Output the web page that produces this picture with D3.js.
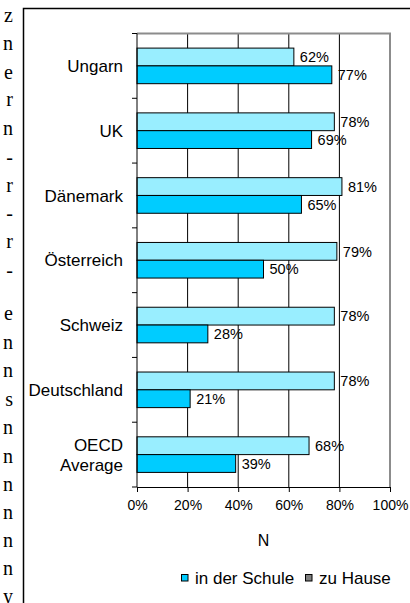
<!DOCTYPE html>
<html>
<head>
<meta charset="utf-8"/>
<title>Chart</title>
<script src="https://d3js.org/d3.v7.min.js"></script>
<style>
  body { margin: 0; background: #fff; }
  svg { display: block; }
  text { font-family: "Liberation Sans", Arial, sans-serif; fill: #000; }
  .serif { font-family: "Liberation Serif", "Times New Roman", serif; }
</style>
</head>
<body>
<svg width="410" height="603"></svg>
<script>
// chart data
var categories = ["Ungarn", "UK", "Dänemark", "Österreich", "Schweiz", "Deutschland", "OECD Average"];
var zuHause = [62, 78, 81, 79, 78, 78, 68];
var inDerSchule = [77, 69, 65, 50, 28, 21, 39];
var xTicks = [0, 20, 40, 60, 80, 100];
var legendLabels = ["in der Schule", "zu Hause"];
var axisTitle = "N";
// cut-off letters of the page text left of the chart
var sideLetters = ["z","n","e","r","n","-","r","-","r","-","e","n","n","s","n","n","n","n","n","n","y"];
var sideY = [15, 43, 72, 99, 128, 157, 185, 213, 241, 270, 313, 342, 370, 399, 427, 456, 484, 512, 540, 568, 596];

var svg = d3.select("svg");

// page text fragment
svg.append("g").selectAll("text")
  .data(sideLetters)
  .enter().append("text")
  .attr("class", "serif")
  .attr("x", 13)
  .attr("y", function(d, i) { return sideY[i]; })
  .attr("dy", "0.35em")
  .attr("text-anchor", "end")
  .style("font-size", "20px")
  .text(function(d) { return d; });

// chart frame
svg.append("path")
  .attr("d", "M23.5,610V8.5H415")
  .attr("fill", "none")
  .attr("stroke", "#000")
  .attr("stroke-width", 1.5);

var plotL = 137, plotR = 390, plotT = 33.5, plotB = 487;

var x = d3.scaleLinear().domain([0, 100]).range([plotL, plotR]);
var y0 = d3.scaleBand().domain(categories).range([plotT, plotB]);
var y1 = d3.scaleBand().domain(["zuHause", "schule"]).range([0, y0.bandwidth()]).paddingOuter(0.82);

var g = svg.append("g");

// gridlines
g.selectAll(".grid")
  .data(xTicks.filter(function(t) { return t > 0 && t < 100; }))
  .enter().append("line")
  .attr("x1", function(d) { return x(d); })
  .attr("x2", function(d) { return x(d); })
  .attr("y1", plotT).attr("y2", plotB)
  .attr("stroke", "#000").attr("stroke-width", 1);

// plot area border (top, right)
g.append("path")
  .attr("d", "M" + plotL + "," + plotT + "H" + plotR + "V" + plotB)
  .attr("fill", "none")
  .attr("stroke", "#8c8c8c")
  .attr("stroke-width", 2);

// bars
var rows = categories.map(function(c, i) {
  return { cat: c, vals: [{ key: "zuHause", v: zuHause[i] }, { key: "schule", v: inDerSchule[i] }] };
});
var colors = { zuHause: "#99EEFF", schule: "#00CCFF" };

var grp = g.selectAll(".cat")
  .data(rows)
  .enter().append("g")
  .attr("transform", function(d) { return "translate(0," + y0(d.cat) + ")"; });

grp.selectAll("rect")
  .data(function(d) { return d.vals; })
  .enter().append("rect")
  .attr("x", x(0))
  .attr("y", function(d) { return y1(d.key); })
  .attr("width", function(d) { return x(d.v) - x(0); })
  .attr("height", y1.bandwidth())
  .attr("fill", function(d) { return colors[d.key]; })
  .attr("stroke", "#000")
  .attr("stroke-width", 1);

grp.selectAll(".val")
  .data(function(d) { return d.vals; })
  .enter().append("text")
  .attr("x", function(d) { return x(d.v) + 6; })
  .attr("y", function(d) { return y1(d.key) + y1.bandwidth() / 2; })
  .attr("dy", "0.36em")
  .style("font-size", "14.5px")
  .text(function(d) { return d.v + "%"; });

// y axis
var yAxis = g.append("g")
  .attr("transform", "translate(" + plotL + ",0)");
yAxis.append("line")
  .attr("x1", 0).attr("x2", 0).attr("y1", plotT).attr("y2", plotB)
  .attr("stroke", "#000");
var bounds = categories.map(function(c) { return y0(c); }).concat([plotB]);
yAxis.selectAll(".tk")
  .data(bounds)
  .enter().append("line")
  .attr("x1", -5).attr("x2", 0)
  .attr("y1", function(d) { return d; }).attr("y2", function(d) { return d; })
  .attr("stroke", "#000");

yAxis.selectAll(".lab")
  .data(categories)
  .enter().append("text")
  .attr("x", -14)
  .attr("y", function(d) { return y0(d) + y0.bandwidth() / 2; })
  .attr("text-anchor", "end")
  .style("font-size", "17px")
  .each(function(d) {
    var parts = d === "OECD Average" ? ["OECD", "Average"] : [d];
    var t = d3.select(this);
    parts.forEach(function(p, i) {
      t.append("tspan")
        .attr("x", -14)
        .attr("dy", i === 0 ? (0.36 - (parts.length - 1) * 0.6) + "em" : "1.2em")
        .text(p);
    });
  });

// x axis
var xAxis = g.append("g")
  .attr("transform", "translate(0," + plotB + ")")
  .call(d3.axisBottom(x).tickValues(xTicks).tickSize(5).tickPadding(8)
    .tickFormat(function(d) { return d + "%"; }));
xAxis.select(".domain").attr("stroke", "#000");
xAxis.selectAll(".tick line").attr("stroke", "#000");
xAxis.selectAll("text")
  .style("font-size", "14px")
  .style("font-family", "'Liberation Sans', Arial, sans-serif");

svg.append("text")
  .attr("x", (plotL + plotR) / 2)
  .attr("y", 540)
  .attr("dy", "0.36em")
  .attr("text-anchor", "middle")
  .style("font-size", "16px")
  .text(axisTitle);

// legend
var legendColors = ["#00CCFF", "#808080"];
var legendX = [181, 305];
var lg = svg.append("g").selectAll("g")
  .data(legendLabels)
  .enter().append("g")
  .attr("transform", function(d, i) { return "translate(" + legendX[i] + ",578)"; });
lg.append("rect")
  .attr("x", 0.5).attr("y", -3.5)
  .attr("width", 6.5).attr("height", 6.5)
  .attr("fill", function(d, i) { return legendColors[i]; })
  .attr("stroke", "#000");
lg.append("text")
  .attr("x", 14)
  .attr("y", 0)
  .attr("dy", "0.36em")
  .style("font-size", "17px")
  .text(function(d) { return d; });
</script>
</body>
</html>
